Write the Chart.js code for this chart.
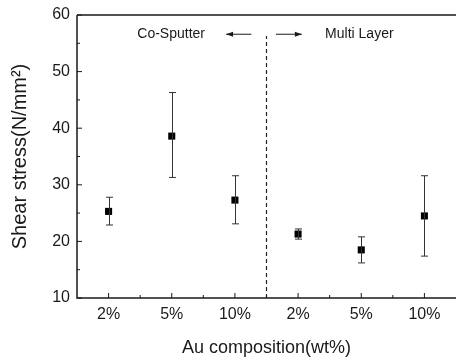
<!DOCTYPE html>
<html>
<head>
<meta charset="UTF-8" />
<title>Shear stress vs Au composition</title>
<script src="https://cdn.jsdelivr.net/npm/chart.js"></script>
<style>
  html, body { margin: 0; padding: 0; background: #fff; }
  #wrap { width: 456px; height: 359px; }
</style>
</head>
<body>
<div id="wrap"><canvas id="stressChart"></canvas></div>
<script>
// categories along the x axis (Co-Sputter: 0..2, Multi Layer: 3..5)
const categories = ["2%", "5%", "10%", "2%", "5%", "10%"];
const stress = [25.3, 38.6, 27.3, 21.3, 18.5, 24.5];
const errLow = [22.9, 31.3, 23.1, 20.4, 16.2, 17.4];
const errHigh = [27.8, 46.3, 31.6, 22.2, 20.8, 31.6];
const yTicks = [10, 20, 30, 40, 50, 60];
const yMinor = [15, 25, 35, 45, 55];
const xMinor = [0.5, 1.5, 2.5, 3.5, 4.5];
const splitAt = 2.5;

const ink = "#1a1a1a";
const fontName = "'Liberation Sans', Arial, sans-serif";

// error bars, inward ticks, top border and the Co-Sputter / Multi Layer labels
const extras = {
  id: "extras",
  afterDatasetsDraw(chart) {
    const { ctx, chartArea: a, scales: { x, y } } = chart;
    ctx.save();
    ctx.strokeStyle = "#333";
    ctx.lineWidth = 1;
    stress.forEach((v, i) => {
      const px = Math.round(x.getPixelForValue(i)) + 0.5;
      const lo = y.getPixelForValue(errLow[i]);
      const hi = y.getPixelForValue(errHigh[i]);
      ctx.beginPath();
      ctx.moveTo(px, lo); ctx.lineTo(px, hi);
      ctx.moveTo(px - 3.5, lo); ctx.lineTo(px + 3.5, lo);
      ctx.moveTo(px - 3.5, hi); ctx.lineTo(px + 3.5, hi);
      ctx.stroke();
    });

    ctx.strokeStyle = ink;
    ctx.lineWidth = 1.5;
    ctx.beginPath();
    ctx.moveTo(a.left, a.top); ctx.lineTo(a.right, a.top);
    ctx.moveTo(a.left, a.top); ctx.lineTo(a.left, a.bottom);
    ctx.lineTo(a.right, a.bottom);
    ctx.stroke();

    ctx.lineWidth = 1;
    ctx.beginPath();
    categories.forEach((c, i) => {
      const px = x.getPixelForValue(i);
      ctx.moveTo(px, a.bottom); ctx.lineTo(px, a.bottom - 5);
    });
    xMinor.forEach(v => {
      const px = x.getPixelForValue(v);
      ctx.moveTo(px, a.bottom); ctx.lineTo(px, a.bottom - 3);
    });
    yTicks.forEach(v => {
      const py = y.getPixelForValue(v);
      ctx.moveTo(a.left, py); ctx.lineTo(a.left + 5, py);
    });
    yMinor.forEach(v => {
      const py = y.getPixelForValue(v);
      ctx.moveTo(a.left, py); ctx.lineTo(a.left + 3, py);
    });
    ctx.stroke();

    // annotations
    const ty = y.getPixelForValue(56.6);
    ctx.fillStyle = ink;
    ctx.font = "14px " + fontName;
    ctx.textAlign = "center";
    ctx.textBaseline = "middle";
    ctx.fillText("Co-Sputter", x.getPixelForValue(0.99), ty);
    ctx.fillText("Multi Layer", x.getPixelForValue(3.97), ty);

    const arrow = (from, to) => {
      const x1 = x.getPixelForValue(from), x2 = x.getPixelForValue(to);
      const dir = Math.sign(x2 - x1);
      ctx.beginPath();
      ctx.moveTo(x1, ty); ctx.lineTo(x2, ty);
      ctx.stroke();
      ctx.beginPath();
      ctx.moveTo(x2, ty);
      ctx.lineTo(x2 - dir * 7, ty - 2.5);
      ctx.lineTo(x2 - dir * 7, ty + 2.5);
      ctx.closePath();
      ctx.fill();
    };
    ctx.lineWidth = 1;
    arrow(2.26, 1.86);
    arrow(2.65, 3.06);
    ctx.restore();
  }
};

new Chart(document.getElementById("stressChart"), {
  type: "scatter",
  data: {
    datasets: [
      {
        label: "Shear stress",
        data: stress.map((v, i) => ({ x: i, y: v })),
        pointStyle: "rect",
        radius: 5,
        backgroundColor: "#000",
        borderColor: "#000",
        borderWidth: 0
      },
      {
        type: "line",
        label: "split",
        data: [{ x: splitAt, y: 10 }, { x: splitAt, y: 56.3 }],
        borderColor: "#222",
        borderWidth: 1.2,
        borderDash: [4, 3],
        pointRadius: 0
      }
    ]
  },
  plugins: [extras],
  options: {
    responsive: true,
    maintainAspectRatio: false,
    animation: false,
    layout: { autoPadding: false, padding: { top: 15, right: 0, left: 0, bottom: 0 } },
    plugins: { legend: { display: false }, tooltip: { enabled: false } },
    scales: {
      x: {
        type: "linear",
        min: -0.5,
        max: 5.5,
        afterBuildTicks: s => { s.ticks = categories.map((c, i) => ({ value: i })); },
        afterFit: s => { s.height = 61; s.paddingLeft = 0; s.paddingRight = 0; },
        grid: { display: false, drawTicks: false },
        border: { display: false },
        ticks: {
          padding: 7,
          color: ink,
          font: { family: fontName, size: 16 },
          callback: v => categories[v]
        },
        title: {
          display: true,
          text: "Au composition(wt%)",
          color: ink,
          font: { family: fontName, size: 18 },
          padding: { top: 0, bottom: 0 }
        }
      },
      y: {
        min: 10,
        max: 60,
        afterBuildTicks: s => { s.ticks = yTicks.map(v => ({ value: v })); },
        afterFit: s => { s.width = 77; s.paddingTop = 0; s.paddingBottom = 0; },
        grid: { display: false, drawTicks: false },
        border: { display: false },
        ticks: {
          padding: 7,
          color: ink,
          font: { family: fontName, size: 16 }
        },
        title: {
          display: true,
          text: "Shear stress(N/mm²)",
          color: ink,
          font: { family: fontName, size: 20 },
          padding: { top: 8, bottom: 0 }
        }
      }
    }
  }
});
</script>
</body>
</html>
